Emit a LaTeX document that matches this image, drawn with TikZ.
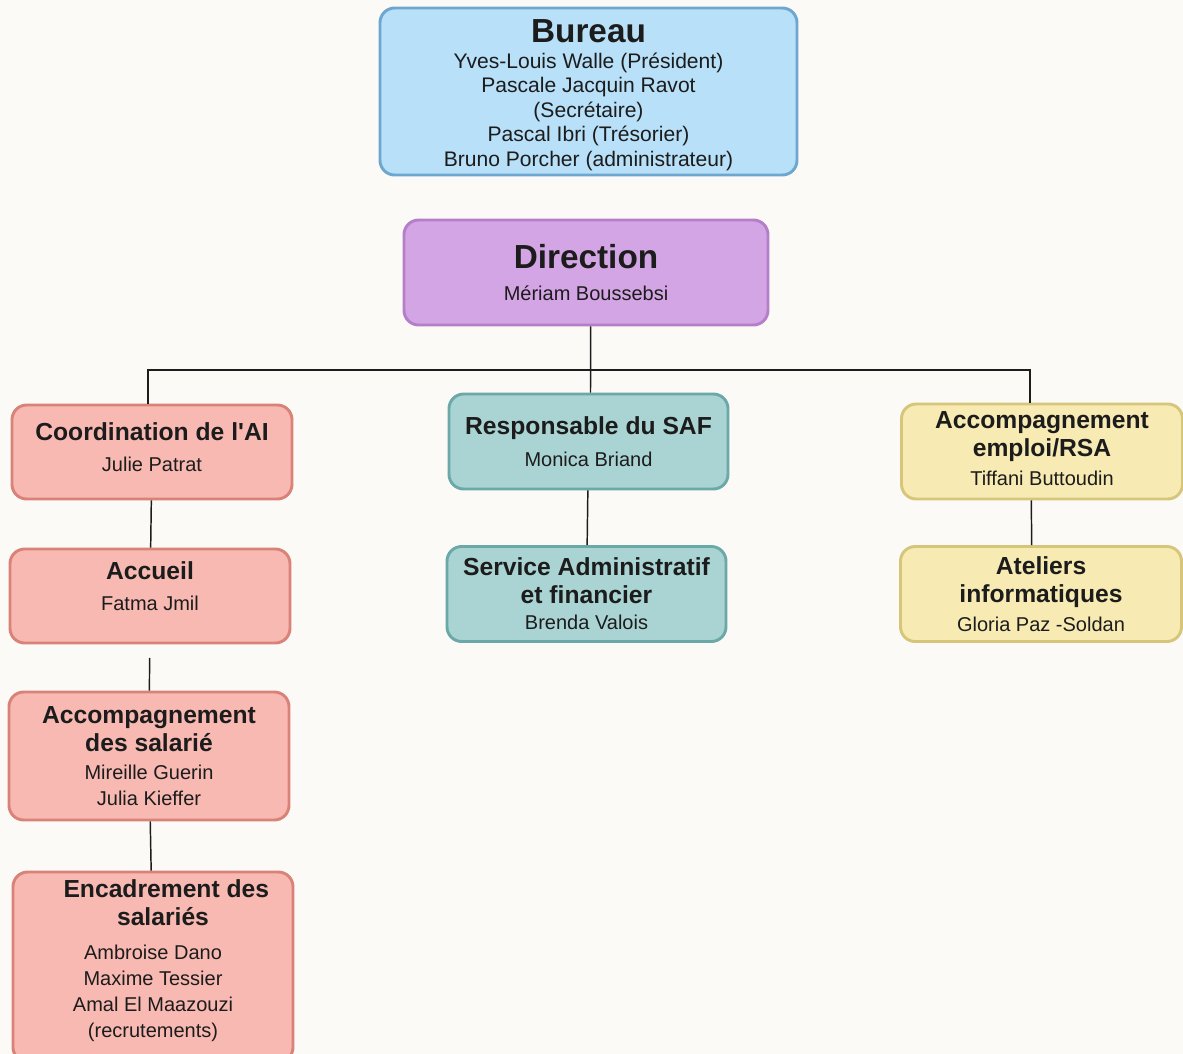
\documentclass[tikz,border=0pt]{standalone}
\usepackage{fontspec}
\setmainfont{Liberation Sans}
\definecolor{bgcol}{HTML}{FCFAF6}
\definecolor{bluefill}{HTML}{B8E0F8}
\definecolor{blueline}{HTML}{6DA7CF}
\definecolor{violetfill}{HTML}{D4A5E4}
\definecolor{violetline}{HTML}{B47EC8}
\definecolor{redfill}{HTML}{F8B9B2}
\definecolor{redline}{HTML}{D98378}
\definecolor{tealfill}{HTML}{A9D4D3}
\definecolor{tealline}{HTML}{6BA9A8}
\definecolor{yellowfill}{HTML}{F7EAB3}
\definecolor{yellowline}{HTML}{D6C679}
\definecolor{inkcol}{HTML}{1C1C1C}
\newcommand{\bigtitle}[1]{{\fontsize{25}{30}\selectfont\bfseries #1}}
\newcommand{\boxtitle}[1]{{\fontsize{18.5}{22}\selectfont\bfseries #1}}
\newcommand{\lowstrut}[1]{\rule[-#1]{0pt}{0pt}}
\begin{document}
\begin{tikzpicture}[x=0.75pt,y=-0.75pt,
    orgbox/.style 2 args={rounded corners=11pt,line width=2.2pt,inner sep=0pt,
        align=center,text=inkcol,minimum width=#1*0.75pt,minimum height=#2*0.75pt,
        font=\fontsize{15}{19.5}\selectfont},
    bureaubox/.style={orgbox={417}{167},fill=bluefill,draw=blueline,
        font=\fontsize{15.8}{18.4}\selectfont},
    dirbox/.style={orgbox={364}{105},fill=violetfill,draw=violetline},
    aibox/.style={fill=redfill,draw=redline},
    safbox/.style={orgbox={279}{95},fill=tealfill,draw=tealline},
    rsabox/.style={orgbox={281}{95},fill=yellowfill,draw=yellowline},
    conn/.style={line width=1.1pt,draw=inkcol}]
  \fill[bgcol] (0,0) rectangle (1183,1054);
  \useasboundingbox (0,0) rectangle (1183,1054);

  % top
  \node[bureaubox] (bureau) at (588.5,91.5) {\rule{0pt}{22.5pt}\bigtitle{Bureau}\\[1pt]
    Yves-Louis Walle (Président)\\ Pascale Jacquin Ravot\\ (Secrétaire)\\
    Pascal Ibri (Trésorier)\\ Bruno Porcher (administrateur)};
  \node[dirbox] (dir) at (586,272.5) {\bigtitle{Direction}\\[5pt] Mériam Boussebsi};

  % AI column
  \node[orgbox={280}{94},aibox] (coord) at (152,452) {\boxtitle{Coordination de l\textquotesingle AI}\\[4pt] Julie Patrat\lowstrut{7.5pt}};
  \node[orgbox={280}{94},aibox] (accueil) at (150,596) {\boxtitle{Accueil}\\[4pt] Fatma Jmil\lowstrut{15pt}};
  \node[orgbox={280}{128},aibox] (accsal) at (149,756) {\boxtitle{Accompagnement}\\[1.5pt]
    \boxtitle{des salarié}\\[2pt] Mireille Guerin\\ Julia Kieffer};
  \node[orgbox={280}{190},aibox] (encad) at (153,967) {\boxtitle{\hspace{20pt}Encadrement des}\\[1.5pt]
    \boxtitle{\hspace{15pt}salariés}\\[6pt] Ambroise Dano\\ Maxime Tessier\\ Amal El Maazouzi\\ (recrutements)\lowstrut{12pt}};

  % SAF column
  \node[safbox] (saf) at (588.5,441.5) {\boxtitle{Responsable du SAF}\\[5pt] Monica Briand};
  \node[safbox] (service) at (586.5,594) {\boxtitle{Service Administratif}\\[1.5pt]
    \boxtitle{et financier}\\ Brenda Valois};

  % RSA column
  \node[rsabox] (emploi) at (1042,451.5) {\boxtitle{Accompagnement}\\[1.5pt]
    \boxtitle{emploi/RSA}\\[2pt] Tiffani Buttoudin\lowstrut{4.5pt}};
  \node[rsabox] (ateliers) at (1041,594) {\boxtitle{Ateliers}\\[1.5pt]
    \boxtitle{informatiques}\\[2pt] Gloria Paz -Soldan};

  % links
  \coordinate (bus) at (591,370);
  \draw[conn] ([xshift=3.5pt]dir.south) -- ([xshift=1.5pt]saf.north);
  \draw[conn] ([xshift=-3pt]coord.north) |- (bus) -| ([xshift=-9pt]emploi.north);
  \draw[conn] (coord) -- (accueil);
  \draw[conn,shorten <=10pt] (accueil) -- (accsal);
  \draw[conn] (accsal) -- (encad);
  \draw[conn] (saf) -- (service);
  \draw[conn] ([xshift=-8pt]emploi.south) -- ([xshift=-7pt]ateliers.north);
\end{tikzpicture}
\end{document}
